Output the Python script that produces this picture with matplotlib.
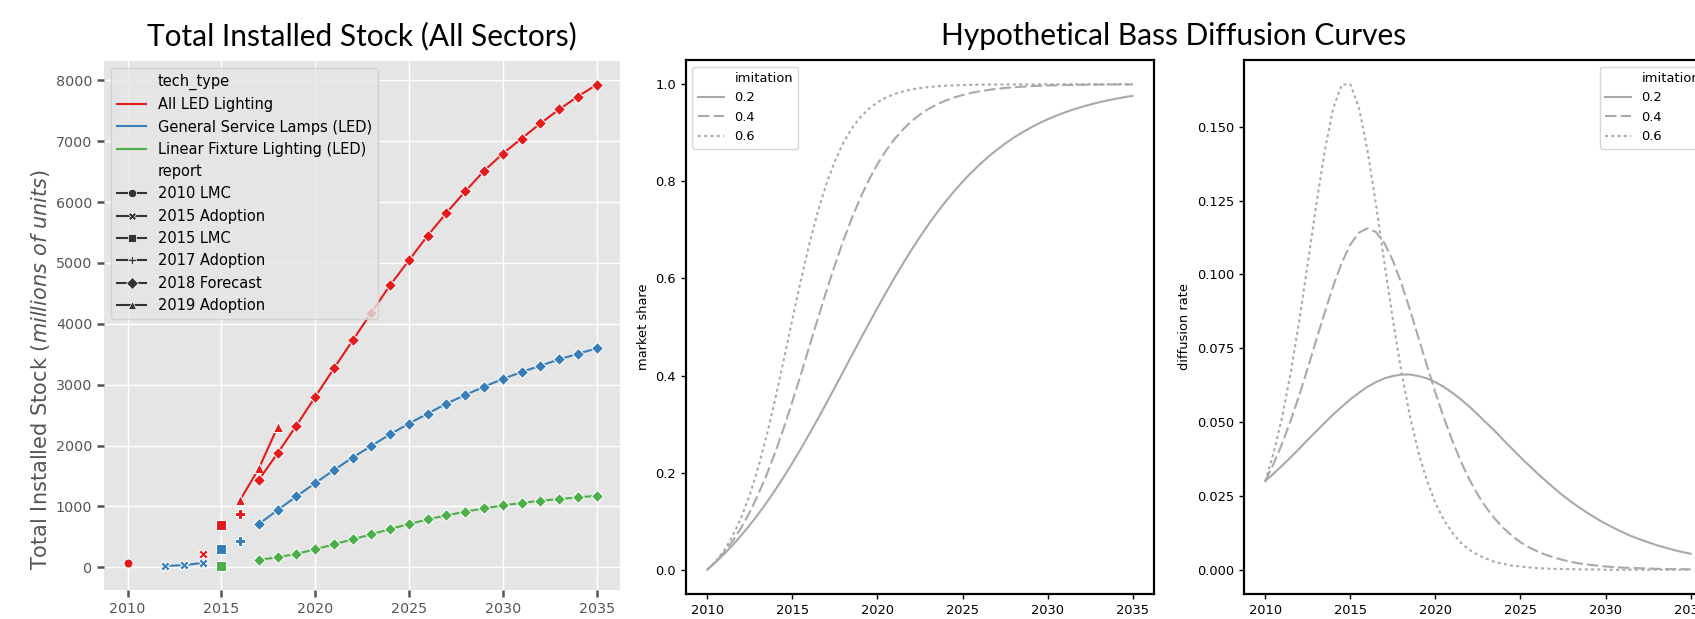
import matplotlib.pyplot as plt
from matplotlib.lines import Line2D

# ---- left panel: installed stock (millions of units) ----
red = "#E41A1C"
blue = "#377EB8"
green = "#4DAF4A"

lmc10_years = [2010]
led_lmc10 = [65]

adopt15_years_led = [2014]
led_adopt15 = [219]
adopt15_years_gsl = [2012, 2013, 2014]
gsl_adopt15 = [22, 33, 71]

lmc15_years = [2015]
led_lmc15 = [700]
gsl_lmc15 = [300]
lfl_lmc15 = [27]

adopt17_years = [2016]
led_adopt17 = [874]
gsl_adopt17 = [437]

adopt19_years = [2016, 2017, 2018]
led_adopt19 = [1104, 1623, 2306]

fc_years = list(range(2017, 2036))
led_fc = [1437, 1874, 2328, 2798, 3268, 3727, 4186, 4637, 5044, 5451, 5823,
          6177, 6513, 6796, 7044, 7292, 7522, 7735, 7929]
gsl_fc = [710, 940, 1164, 1383, 1596, 1803, 1995, 2186, 2361, 2525, 2689,
          2831, 2967, 3093, 3208, 3311, 3415, 3508, 3596]
lfl_fc = [120, 164, 219, 295, 377, 459, 541, 628, 710, 787, 852, 913, 967,
          1016, 1055, 1093, 1120, 1148, 1175]

# ---- right panels: hypothetical Bass curves, half-year steps 2010-2035 ----
bass_years = [2010 + 0.5 * i for i in range(51)]
share_02 = [0.0, 0.0156, 0.0326, 0.0510, 0.0708, 0.0920, 0.1147, 0.1389, 0.1645, 0.1914,
            0.2197, 0.2491, 0.2796, 0.3109, 0.3430, 0.3756, 0.4086, 0.4416, 0.4746, 0.5072,
            0.5393, 0.5706, 0.6011, 0.6305, 0.6588, 0.6857, 0.7112, 0.7354, 0.7581, 0.7793,
            0.7991, 0.8175, 0.8345, 0.8501, 0.8645, 0.8776, 0.8897, 0.9006, 0.9106, 0.9196,
            0.9278, 0.9352, 0.9418, 0.9479, 0.9533, 0.9582, 0.9626, 0.9665, 0.9701, 0.9733, 0.9761]
share_04 = [0.0, 0.0165, 0.0361, 0.0595, 0.0868, 0.1187, 0.1552, 0.1964, 0.2423, 0.2924,
            0.3461, 0.4022, 0.4598, 0.5173, 0.5737, 0.6276, 0.6780, 0.7244, 0.7661, 0.8031,
            0.8353, 0.8632, 0.8868, 0.9068, 0.9236, 0.9375, 0.9491, 0.9585, 0.9663, 0.9726,
            0.9778, 0.9821, 0.9855, 0.9882, 0.9905, 0.9923, 0.9939, 0.9950, 0.9960, 0.9967,
            0.9974, 0.9979, 0.9983, 0.9986, 0.9989, 0.9991, 0.9993, 0.9994, 0.9996, 0.9996, 0.9997]
share_06 = [0.0, 0.0173, 0.0401, 0.0697, 0.1074, 0.1543, 0.2111, 0.2776, 0.3524, 0.4329,
            0.5154, 0.5960, 0.6710, 0.7376, 0.7947, 0.8418, 0.8797, 0.9094, 0.9322, 0.9496,
            0.9627, 0.9726, 0.9798, 0.9853, 0.9892, 0.9921, 0.9942, 0.9958, 0.9969, 0.9977,
            0.9983, 0.9987, 0.9992, 0.9994, 0.9996, 0.9997, 0.9998, 0.9998, 0.9999, 0.9999,
            0.9999, 1.0, 1.0, 1.0, 1.0, 1.0, 1.0, 1.0, 1.0, 1.0, 1.0]
rate_02 = [0.0300, 0.0326, 0.0353, 0.0381, 0.0410, 0.0440, 0.0469, 0.0498, 0.0526, 0.0552,
           0.0577, 0.0599, 0.0619, 0.0635, 0.0648, 0.0656, 0.0661, 0.0661, 0.0656, 0.0648,
           0.0635, 0.0619, 0.0599, 0.0577, 0.0552, 0.0525, 0.0497, 0.0469, 0.0439, 0.0410,
           0.0381, 0.0353, 0.0326, 0.0300, 0.0275, 0.0251, 0.0229, 0.0209, 0.0190, 0.0172,
           0.0156, 0.0141, 0.0127, 0.0114, 0.0103, 0.0093, 0.0083, 0.0075, 0.0067, 0.0060, 0.0054]
rate_04 = [0.0300, 0.0360, 0.0428, 0.0506, 0.0591, 0.0683, 0.0778, 0.0872, 0.0962, 0.1040,
           0.1101, 0.1141, 0.1156, 0.1144, 0.1106, 0.1047, 0.0970, 0.0881, 0.0787, 0.0692,
           0.0600, 0.0514, 0.0436, 0.0366, 0.0305, 0.0253, 0.0209, 0.0172, 0.0141, 0.0115,
           0.0093, 0.0076, 0.0062, 0.0050, 0.0041, 0.0033, 0.0026, 0.0021, 0.0017, 0.0014,
           0.0011, 0.0009, 0.0007, 0.0006, 0.0005, 0.0004, 0.0003, 0.0002, 0.0002, 0.0002, 0.0001]
rate_06 = [0.0300, 0.0397, 0.0519, 0.0668, 0.0843, 0.1037, 0.1236, 0.1420, 0.1564, 0.1643,
           0.1644, 0.1566, 0.1423, 0.1240, 0.1041, 0.0847, 0.0671, 0.0521, 0.0399, 0.0302,
           0.0226, 0.0168, 0.0125, 0.0091, 0.0067, 0.0050, 0.0037, 0.0026, 0.0020, 0.0014,
           0.0011, 0.0008, 0.0005, 0.0004, 0.0003, 0.0002, 0.0002, 0.0001, 0.0001, 0.0001,
           0.0, 0.0, 0.0, 0.0, 0.0, 0.0, 0.0, 0.0, 0.0, 0.0, 0.0]
imitation_labels = ["0.2", "0.4", "0.6"]
bass_styles = ["-", (0, (5.5, 2)), (0, (1.4, 1.6))]
curve_grey = "#A9A9A9"

plt.rcParams["font.family"] = "DejaVu Sans"

fig = plt.figure(figsize=(16.95, 6.19), dpi=100)

# ---------- left: ggplot-like panel ----------
ax1 = fig.add_axes([0.0614, 0.0469, 0.3044, 0.8551])
ax1.set_facecolor("#E5E5E5")
for s in ax1.spines.values():
    s.set_visible(False)
ax1.grid(True, color="white", linewidth=1.0)
ax1.set_axisbelow(True)
ax1.tick_params(colors="#555555", labelsize=10.3, length=5, width=1.8)

mk = dict(markeredgecolor="white", markeredgewidth=0.75, markersize=6.5, linewidth=1.5)

ax1.plot(lmc10_years, led_lmc10, marker="o", color=red, **mk)
ax1.plot(adopt15_years_led, led_adopt15, marker="X", color=red, **mk)
ax1.plot(adopt15_years_gsl, gsl_adopt15, marker="X", color=blue, **mk)
ax1.plot(lmc15_years, led_lmc15, marker="s", color=red, **mk)
ax1.plot(lmc15_years, gsl_lmc15, marker="s", color=blue, **mk)
ax1.plot(lmc15_years, lfl_lmc15, marker="s", color=green, **mk)
ax1.plot(adopt17_years, led_adopt17, marker="P", color=red, **mk)
ax1.plot(adopt17_years, gsl_adopt17, marker="P", color=blue, **mk)
ax1.plot(adopt19_years, led_adopt19, marker="^", color=red, **mk)
ax1.plot(fc_years, led_fc, marker="D", color=red, **mk)
ax1.plot(fc_years, gsl_fc, marker="D", color=blue, **mk)
ax1.plot(fc_years, lfl_fc, marker="D", color=green, **mk)

ax1.set_xticks([2010, 2015, 2020, 2025, 2030, 2035])
ax1.set_yticks(range(0, 8001, 1000))
ax1.set_ylabel(r"Total Installed Stock ($\it{millions\ of\ units}$)",
               fontsize=15, color="#555555")
ax1.yaxis.set_label_coords(-0.1, 0.416)

blank = Line2D([], [], linestyle="", marker="")
handles = [blank,
           Line2D([], [], color=red, lw=1.5),
           Line2D([], [], color=blue, lw=1.5),
           Line2D([], [], color=green, lw=1.5),
           blank]
labels = ["tech_type", "All LED Lighting", "General Service Lamps (LED)",
          "Linear Fixture Lighting (LED)", "report"]
for m, lab in zip(["o", "X", "s", "P", "D", "^"],
                  ["2010 LMC", "2015 Adoption", "2015 LMC", "2017 Adoption",
                   "2018 Forecast", "2019 Adoption"]):
    handles.append(Line2D([], [], color=".2", marker=m, markersize=6,
                          markeredgecolor="white", markeredgewidth=0.5, lw=1.5))
    labels.append(lab)
leg = ax1.legend(handles, labels, loc="upper left", fontsize=10.5,
                 facecolor="#E5E5E5", edgecolor="0.8", labelspacing=0.5)

# ---------- middle and right: Bass curves ----------
ax2 = fig.add_axes([0.4047, 0.0404, 0.2761, 0.8627])
ax3 = fig.add_axes([0.7339, 0.0404, 0.2761, 0.8627])

for ax, series, ylab in [(ax2, [share_02, share_04, share_06], "market share"),
                         (ax3, [rate_02, rate_04, rate_06], "diffusion rate")]:
    for vals, ls, lab in zip(series, bass_styles, imitation_labels):
        ax.plot(bass_years, vals, color=curve_grey, linestyle=ls, lw=1.5, label=lab)
    for s in ax.spines.values():
        s.set_linewidth(1.6)
    ax.tick_params(labelsize=9.4, width=1.0, length=3.5)
    ax.set_xticks([2010, 2015, 2020, 2025, 2030, 2035])
    ax.set_ylabel(ylab, fontsize=9.4)
    h, l = ax.get_legend_handles_labels()
    ax.legend([blank] + h, ["imitation"] + l, fontsize=9.4,
              loc="upper left" if ax is ax2 else "upper right")

ax2.set_yticks([0.0, 0.2, 0.4, 0.6, 0.8, 1.0])
ax3.set_yticks([0.0, 0.025, 0.05, 0.075, 0.1, 0.125, 0.15])

fig.text(362 / 1695, 1 - 36 / 619, "Total Installed Stock (All Sectors)",
         ha="center", va="center", fontsize=21.5, family="Lato")
fig.text(1174 / 1695, 1 - 36 / 619, "Hypothetical Bass Diffusion Curves",
         ha="center", va="center", fontsize=21.5, family="Lato")

fig.savefig("out.png", dpi=100)
